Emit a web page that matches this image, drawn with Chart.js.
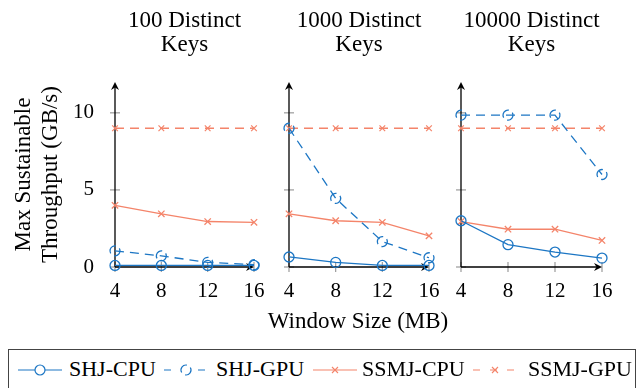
<!DOCTYPE html>
<html>
<head>
<meta charset="utf-8">
<script src="https://cdn.jsdelivr.net/npm/chart.js@4.4.1/dist/chart.umd.min.js"></script>
<style>
  body { margin: 0; background: #fff; font-family: 'Liberation Serif', serif; }
  #wrap { position: relative; width: 643px; height: 388px; overflow: hidden; }
  #wrap canvas { position: absolute; top: 0; }
  .ttl { position: absolute; top: 8px; width: 200px; text-align: center; font-size: 23px; line-height: 24px; color: #000; }
  #xtitle { position: absolute; top: 308px; left: 158px; width: 400px; text-align: center; font-size: 23px; line-height: 26px; }
  #legend { position: absolute; left: 8px; top: 349px; width: 628px; height: 50px; border: 1px solid #444; box-sizing: border-box; font-size: 22px; }
  #legend svg, #legend span { position: absolute; }
  #legend span { top: 6px; line-height: 26px; white-space: nowrap; }
  #legend svg { top: 10px; }
</style>
</head>
<body>
<div id="wrap">
  <canvas id="c0" width="275" height="345" style="left:0px"></canvas>
  <canvas id="c1" width="185" height="345" style="left:262px"></canvas>
  <canvas id="c2" width="200" height="345" style="left:436px"></canvas>
  <div id="xtitle">Window Size (MB)</div>
  <div id="legend"></div>
</div>
<script>
// data
const windowSizes = [4, 8, 12, 16];
const panelTitles = [['100 Distinct', 'Keys'], ['1000 Distinct', 'Keys'], ['10000 Distinct', 'Keys']];
const seriesNames = ['SHJ-CPU', 'SHJ-GPU', 'SSMJ-CPU', 'SSMJ-GPU'];
const shjCpu  = [[0.1, 0.1, 0.1, 0.1], [0.65, 0.3, 0.1, 0.1], [3.0, 1.45, 0.97, 0.58]];
const shjGpu  = [[1.05, 0.72, 0.3, 0.15], [9.0, 4.45, 1.65, 0.6], [9.85, 9.85, 9.85, 6.0]];
const ssmjCpu = [[4.0, 3.45, 2.95, 2.9], [3.45, 3.0, 2.9, 2.02], [2.95, 2.45, 2.45, 1.72]];
const ssmjGpu = [[9, 9, 9, 9], [9, 9, 9, 9], [9, 9, 9, 9]];
const yTicks = [0, 5, 10];

const BLUE = '#1c76c4';
const SALMON = '#f4846a';
const FONT = 'Liberation Serif';

// pixel layout of the three panels
const panels = [
  { canvas: 'c0', left: 0,   width: 275, axisX: 115, endX: 254 },
  { canvas: 'c1', left: 262, width: 185, axisX: 289, endX: 429 },
  { canvas: 'c2', left: 436, width: 200, axisX: 461, endX: 602 },
];
const AREA_TOP = 82, AREA_BOTTOM = 267, CANVAS_H = 345;

const deg = Math.PI / 180;

const axisArrows = {
  id: 'axisArrows',
  beforeDatasetsDraw(chart) {
    const { ctx, scales: { x, y } } = chart;
    const x0 = x.getPixelForValue(4), x1 = x.getPixelForValue(16);
    const y0 = y.getPixelForValue(0), y1 = y.getPixelForValue(y.max);
    const seg = (a, b, c, d) => { ctx.beginPath(); ctx.moveTo(a, b); ctx.lineTo(c, d); ctx.stroke(); };
    ctx.save();
    ctx.strokeStyle = '#9a9a9a';
    ctx.lineWidth = 1.2;
    windowSizes.forEach(v => { const px = x.getPixelForValue(v); seg(px, y0 - 5, px, y0 + 5); });
    yTicks.forEach(v => { const py = y.getPixelForValue(v); seg(x0 - 5, py, x0 + 5, py); });
    ctx.strokeStyle = '#000';
    ctx.fillStyle = '#000';
    ctx.lineWidth = 1.3;
    seg(x0, y0, x1 - 3, y0);
    seg(x0, y0, x0, y1 + 3);
    // arrow heads
    ctx.beginPath();
    ctx.moveTo(x1, y0); ctx.lineTo(x1 - 8, y0 - 4); ctx.lineTo(x1 - 5.5, y0); ctx.lineTo(x1 - 8, y0 + 4);
    ctx.closePath(); ctx.fill();
    ctx.beginPath();
    ctx.moveTo(x0, y1); ctx.lineTo(x0 - 4, y1 + 8); ctx.lineTo(x0, y1 + 5.5); ctx.lineTo(x0 + 4, y1 + 8);
    ctx.closePath(); ctx.fill();
    ctx.restore();
  },
  // broken circle markers for SHJ-GPU, at the library's point positions
  afterDatasetsDraw(chart) {
    const { ctx } = chart;
    ctx.save();
    ctx.strokeStyle = BLUE;
    ctx.lineWidth = 1.3;
    chart.getDatasetMeta(1).data.forEach(pt => {
      ctx.beginPath();
      ctx.arc(pt.x, pt.y, 5, -30 * deg, 100 * deg);
      ctx.stroke();
      ctx.beginPath();
      ctx.arc(pt.x, pt.y, 5, 150 * deg, 280 * deg);
      ctx.stroke();
    });
    ctx.restore();
  }
};

function pts(arr) { return windowSizes.map((w, i) => ({ x: w, y: arr[i] })); }

panels.forEach((p, i) => {
  // title over the plot area
  const t = document.createElement('div');
  t.className = 'ttl';
  t.innerHTML = panelTitles[i].join('<br>');
  t.style.left = ((p.axisX + p.endX) / 2 - 100) + 'px';
  document.getElementById('wrap').appendChild(t);

  const first = i === 0;
  new Chart(document.getElementById(p.canvas), {
    type: 'line',
    data: {
      datasets: [
        { label: seriesNames[0], data: pts(shjCpu[i]), borderColor: BLUE, borderWidth: 1.3,
          pointStyle: 'circle', pointRadius: 5, pointBorderColor: BLUE, pointBackgroundColor: 'rgba(0,0,0,0)', pointBorderWidth: 1.3 },
        { label: seriesNames[1], data: pts(shjGpu[i]), borderColor: BLUE, borderWidth: 1.3, borderDash: [9, 6],
          pointRadius: 0 },
        { label: seriesNames[2], data: pts(ssmjCpu[i]), borderColor: SALMON, borderWidth: 1.3,
          pointStyle: 'crossRot', pointRadius: 4.5, pointBorderColor: SALMON, pointBorderWidth: 1.3 },
        { label: seriesNames[3], data: pts(ssmjGpu[i]), borderColor: SALMON, borderWidth: 1.3, borderDash: [9, 6],
          pointStyle: 'crossRot', pointRadius: 4, pointBorderColor: SALMON, pointBorderWidth: 1.2 },
      ].map(d => Object.assign(d, { fill: false, tension: 0, clip: false }))
    },
    options: {
      responsive: false,
      animation: false,
      devicePixelRatio: 1,
      layout: { padding: { left: 0, top: AREA_TOP, right: p.width - (p.endX - p.left), bottom: 0 } },
      plugins: { legend: { display: false }, tooltip: { enabled: false } },
      scales: {
        x: {
          type: 'linear', min: 4, max: 16,
          grid: { display: false }, border: { display: false },
          afterBuildTicks: s => { s.ticks = windowSizes.map(v => ({ value: v })); },
          afterFit: s => { s.height = CANVAS_H - AREA_BOTTOM; },
          ticks: { color: '#000', padding: 4, maxRotation: 0, font: { family: FONT, size: 21 } }
        },
        y: {
          min: 0, max: 12,
          grid: { display: false }, border: { display: false },
          afterBuildTicks: s => { s.ticks = yTicks.map(v => ({ value: v })); },
          afterFit: s => { s.width = p.axisX - p.left; },
          ticks: { display: first, color: '#000', padding: 13, font: { family: FONT, size: 21 } },
          title: { display: first, text: ['Max Sustainable', 'Throughput (GB/s)'], color: '#000',
                   padding: { top: 10, bottom: 0 }, font: { family: FONT, size: 23, lineHeight: 1.2 } }
        }
      }
    },
    plugins: [axisArrows]
  });
});

// legend
const legendStyles = [
  { color: BLUE, dash: '', marker: 'circle', sx: 8, tx: 60 },
  { color: BLUE, dash: '7 10', marker: 'dcircle', sx: 154, tx: 207 },
  { color: SALMON, dash: '', marker: 'cross', sx: 303, tx: 353 },
  { color: SALMON, dash: '7 10', marker: 'cross', sx: 463, tx: 519 },
];
const legend = document.getElementById('legend');
seriesNames.forEach((name, i) => {
  const st = legendStyles[i];
  let mk = '';
  if (st.marker === 'circle') mk = `<circle cx="23" cy="10" r="5" fill="#fff" stroke="${st.color}" stroke-width="1.2"/>`;
  if (st.marker === 'dcircle') mk = `<circle cx="23" cy="10" r="6" fill="#fff"/><path d="M27.33 7.5 A5 5 0 0 1 22.13 14.92 M18.67 12.5 A5 5 0 0 1 23.87 5.08" fill="none" stroke="${st.color}" stroke-width="1.2"/>`;
  if (st.marker === 'cross') mk = `<path d="M20 7 L26 13 M26 7 L20 13" stroke="${st.color}" stroke-width="1.1"/>`;
  const svg = `<svg width="46" height="20" style="left:${st.sx}px"><line x1="1" y1="10" x2="45" y2="10" stroke="${st.color}" stroke-width="1.2" stroke-dasharray="${st.dash}"/>${mk}</svg>`;
  legend.insertAdjacentHTML('beforeend', svg + `<span style="left:${st.tx}px">${name}</span>`);
});
</script>
</body>
</html>
